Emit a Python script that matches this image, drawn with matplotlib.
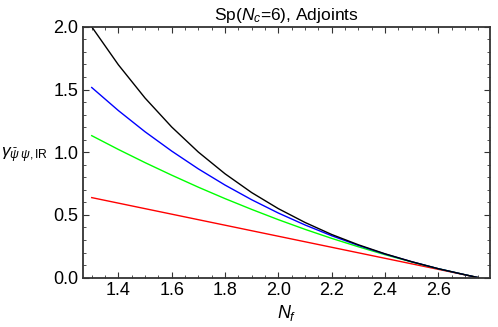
import matplotlib
matplotlib.use("Agg")
import matplotlib.pyplot as plt
from matplotlib.ticker import MultipleLocator

plt.rcParams['font.family'] = ['Liberation Sans', 'DejaVu Sans']
plt.rcParams['mathtext.fontset'] = 'custom'
plt.rcParams['mathtext.rm'] = 'Liberation Sans'
plt.rcParams['mathtext.it'] = 'Liberation Sans:italic'

# N_f values and the four curves
nf = [1.30, 1.40, 1.50, 1.60, 1.70, 1.80, 1.90, 2.00, 2.10, 2.20,
      2.30, 2.40, 2.50, 2.60, 2.70, 2.75]
gamma_red = [0.638, 0.594, 0.550, 0.506, 0.462, 0.418, 0.374, 0.330, 0.286,
             0.242, 0.198, 0.154, 0.110, 0.066, 0.022, 0.0]
gamma_green = [1.132, 1.022, 0.917, 0.817, 0.721, 0.630, 0.544, 0.462, 0.385,
               0.313, 0.246, 0.183, 0.125, 0.071, 0.023, 0.0]
gamma_blue = [1.516, 1.332, 1.163, 1.009, 0.867, 0.738, 0.621, 0.515, 0.420,
              0.334, 0.257, 0.188, 0.127, 0.071, 0.023, 0.0]
gamma_black = [2.000, 1.697, 1.432, 1.201, 1.001, 0.828, 0.678, 0.550, 0.440,
               0.344, 0.262, 0.190, 0.127, 0.071, 0.023, 0.0]

fig = plt.figure(figsize=(4.98, 3.27), dpi=100)
ax = fig.add_axes([0.166, 0.151, 0.818, 0.767])

ax.plot(nf, gamma_red, color='#ff0000', lw=1.0)
ax.plot(nf, gamma_green, color='#00ff00', lw=1.0)
ax.plot(nf, gamma_blue, color='#0000ff', lw=1.0)
ax.plot(nf, gamma_black, color='black', lw=1.0)

ax.set_xlim(1.266, 2.794)
ax.set_ylim(0, 2.0)
ax.xaxis.set_minor_locator(MultipleLocator(0.05))
ax.yaxis.set_minor_locator(MultipleLocator(0.1))
ax.set_xticks([1.4, 1.6, 1.8, 2.0, 2.2, 2.4, 2.6])
ax.set_xticklabels(['1.4', '1.6', '1.8', '2.0', '2.2', '2.4', '2.6'])
ax.set_yticks([0.0, 0.5, 1.0, 1.5, 2.0])
ax.set_yticklabels(['0.0', '0.5', '1.0', '1.5', '2.0'])

for s in ax.spines.values():
    s.set_color('#333333')
    s.set_linewidth(1.3)
ax.tick_params(which='both', direction='in', top=True, right=True,
               color='#333333', labelsize=13, labelcolor='black')
ax.tick_params(which='major', length=4, width=0.8, pad=3)
ax.tick_params(which='minor', length=2, width=0.6)

ax.set_title(r'Sp($N_c$=6), Adjoints', fontsize=12.5, pad=5)
ax.set_xlabel(r'$N_f$', fontsize=13, labelpad=3)
ax.set_ylabel(r'$\gamma_{\bar\psi\,\psi,\mathrm{IR}}$', fontsize=12.5,
              rotation=0, ha='left', va='center')
ax.yaxis.set_label_coords(-0.2, 0.49)

fig.savefig('out.png', dpi=100)
